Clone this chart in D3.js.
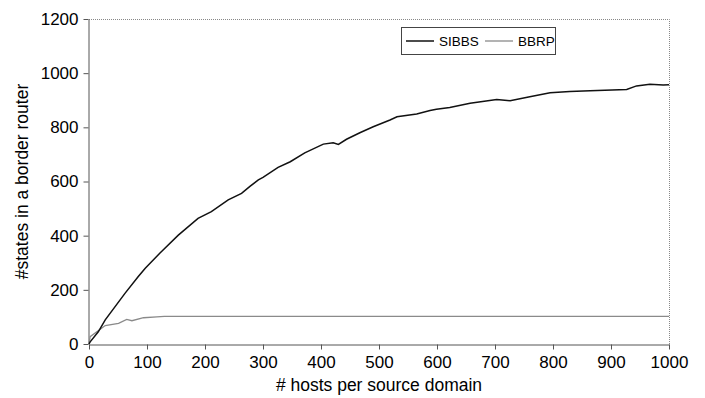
<!DOCTYPE html>
<html>
<head>
<meta charset="utf-8">
<script src="https://cdn.jsdelivr.net/npm/d3@7"></script>
<style>
  body { margin: 0; background: #fff; }
  svg { display: block; font-family: "Liberation Sans", Arial, sans-serif; }
</style>
</head>
<body>
<script>
// values
var sibbsX = [0, 2, 16, 28, 45, 62, 85, 97, 122, 154, 188, 211, 240, 263, 278, 292, 300, 326, 347, 372, 404, 421, 430, 444, 467, 490, 519, 531, 565, 588, 599, 622, 657, 703, 726, 760, 795, 829, 864, 927, 944, 967, 990, 1000];
var sibbsY = [0, 8, 45, 89, 138, 187, 249, 280, 335, 402, 464, 489, 532, 556, 583, 606, 615, 652, 673, 706, 738, 743, 737, 756, 780, 802, 827, 839, 849, 862, 867, 873, 889, 903, 898, 913, 928, 932, 935, 940, 953, 959, 956, 957];
var bbrpX = [0, 2, 28, 51, 65, 74, 94, 117, 130, 1000];
var bbrpY = [0, 27, 68, 76, 91, 86, 97, 100, 102, 102];
var xTicks = [0, 100, 200, 300, 400, 500, 600, 700, 800, 900, 1000];
var yTicks = [0, 200, 400, 600, 800, 1000, 1200];
var seriesNames = ['SIBBS', 'BBRP'];

var width = 705, height = 398;
var plotL = 89, plotR = 669, plotT = 19, plotB = 344;

var svg = d3.select('body').append('svg').attr('width', width).attr('height', height);

var x = d3.scaleLinear().domain([0, 1000]).range([plotL, plotR]);
var y = d3.scaleLinear().domain([0, 1200]).range([plotB, plotT]);

// top and right frame
svg.append('path')
  .attr('d', 'M' + plotL + ',' + (plotT + 0.5) + 'H' + (plotR + 0.5) + 'V' + plotB)
  .attr('fill', 'none').attr('stroke', '#888').attr('stroke-dasharray', '1,1');

var xAxis = svg.append('g')
  .attr('transform', 'translate(0,' + (plotB + 0.5) + ')')
  .call(d3.axisBottom(x).tickValues(xTicks).tickFormat(d3.format('d')).tickSize(5).tickSizeOuter(0).tickPadding(6));
var yAxis = svg.append('g')
  .attr('transform', 'translate(' + (plotL - 0.5) + ',0)')
  .call(d3.axisLeft(y).tickValues(yTicks).tickFormat(d3.format('d')).tickSize(5).tickSizeOuter(0).tickPadding(5));

[xAxis, yAxis].forEach(function (g) {
  g.select('.domain').attr('stroke', '#555');
  g.selectAll('.tick line').attr('stroke', '#555');
  g.selectAll('.tick text').attr('fill', '#000').style('font-size', '17px');
});

var line = d3.line().x(function (d) { return x(d[0]); }).y(function (d) { return y(d[1]); });

svg.append('path')
  .datum(bbrpX.map(function (v, i) { return [v, bbrpY[i]]; }))
  .attr('d', line).attr('fill', 'none').attr('stroke', '#8a8a8a').attr('stroke-width', 1.3);

svg.append('path')
  .datum(sibbsX.map(function (v, i) { return [v, sibbsY[i]]; }))
  .attr('d', line).attr('fill', 'none').attr('stroke', '#111').attr('stroke-width', 1.5);

// axis titles
svg.append('text')
  .attr('x', (plotL + plotR) / 2).attr('y', 391)
  .attr('text-anchor', 'middle').style('font-size', '17.5px')
  .text('# hosts per source domain');
svg.append('text')
  .attr('transform', 'translate(28,' + (plotT + plotB) / 2 + ') rotate(-90)')
  .attr('text-anchor', 'middle').style('font-size', '17.5px')
  .text('#states in a border router');

// legend
var lg = svg.append('g');
lg.append('rect').attr('x', 401.5).attr('y', 27.5).attr('width', 154).attr('height', 27)
  .attr('fill', '#fff').attr('stroke', '#444');
var legendItems = [
  { name: seriesNames[0], x0: 406, color: '#111', w: 1.5 },
  { name: seriesNames[1], x0: 485, color: '#8a8a8a', w: 1.3 }
];
legendItems.forEach(function (d) {
  lg.append('line').attr('x1', d.x0).attr('x2', d.x0 + 28).attr('y1', 41).attr('y2', 41)
    .attr('stroke', d.color).attr('stroke-width', d.w);
  lg.append('text').attr('x', d.x0 + 33).attr('y', 46).style('font-size', '13.5px').text(d.name);
});
</script>
</body>
</html>
